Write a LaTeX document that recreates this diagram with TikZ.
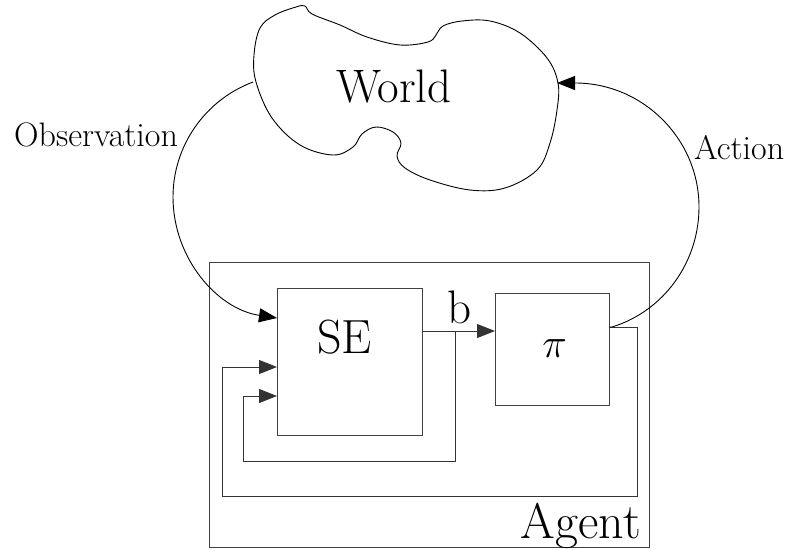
\documentclass[tikz,border=0pt]{standalone}
\usepackage{fontspec}
\usetikzlibrary{arrows.meta}
\begin{document}
\begin{tikzpicture}[x=1pt,y=-1pt,
  boxline/.style={draw=black!75,line width=1pt},
  wire/.style={draw=black!80,line width=1pt},
  curveline/.style={draw=black,line width=0.9pt},
  tip/.style={-{Triangle[length=18pt,width=14pt]}},
  lbl/.style={inner sep=0pt,font=\rmfamily\fontsize{#1}{#1}\selectfont},
  blk/.style={boxline,minimum width=#1,inner sep=0pt}
]
\useasboundingbox (0,0) rectangle (790,549);
% World cloud
\draw[curveline] plot[smooth cycle,tension=0.6] coordinates {
 (305,6) (312,14) (340,25) (367,37) (400,45) (428,42) (436,35) (443,26) (462,21) (490,21)
 (520,33) (547,58) (558,83) (557,110) (550,143) (537,170) (505,188) (470,190) (430,180)
 (405,168) (397,156) (401,143) (393,132) (376,127) (362,134) (353,147) (333,155) (300,145)
 (272,118) (256,82) (254,55) (260,28) (275,15) (296,7)};
\node[lbl=47,anchor=base west] (world) at (336,102) {World};
\coordinate (obsout) at (253,82);
\coordinate (actin) at (557,83);
% Agent box
\node[blk=440pt,minimum height=285pt] (agent) at (429,404.5) {};
\node[lbl=50,anchor=base east] (agentlbl) at (641,538) {Agent};
% SE box
\node[blk=145pt,minimum height=147pt] (se) at (349.5,361.5) {};
\node[lbl=48,anchor=base west] (selbl) at (317,353) {SE};
% pi box
\node[blk=114pt,minimum height=112pt] (pi) at (552,349) {};
\node[inner sep=0pt,scale=2,font=\fontsize{20.74}{24}\selectfont,anchor=base west] (pilbl) at (542,357) {$\pi$};
% ports
\coordinate (seout) at (422,331);
\coordinate (piin) at (495,331);
\coordinate (junc) at (455,331);
\coordinate (sein1) at (277,318);
\coordinate (sein2) at (277,367);
\coordinate (sein3) at (277,396);
\coordinate (piout) at (609,327);
% b
\draw[wire,tip] (seout) -- (piin);
\node[lbl=47,anchor=base west] (blbl) at (447,323) {b};
% feedback loops
\draw[wire,tip] (junc) -- (455,461) -- (243,461) -- (243,396) -- (sein3);
\draw[wire,tip] (piout) -- (637,327) -- (637,496) -- (222,496) -- (222,367) -- (sein2);
% Observation
\draw[curveline,tip] (obsout) .. controls (205,100) and (173,146) .. (173,197)
  .. controls (173,258) and (217,309) .. (sein1);
\node[lbl=34,anchor=base west] (obslbl) at (14,146) {Observation};
% Action
\draw[curveline,tip] (piout) -- (612,327) .. controls (664,311) and (699,262) .. (699,207)
  .. controls (699,139) and (643,83) .. (575,83) -- (actin);
\node[lbl=34,anchor=base west] (actlbl) at (694,159) {Action};
\end{tikzpicture}
\end{document}
